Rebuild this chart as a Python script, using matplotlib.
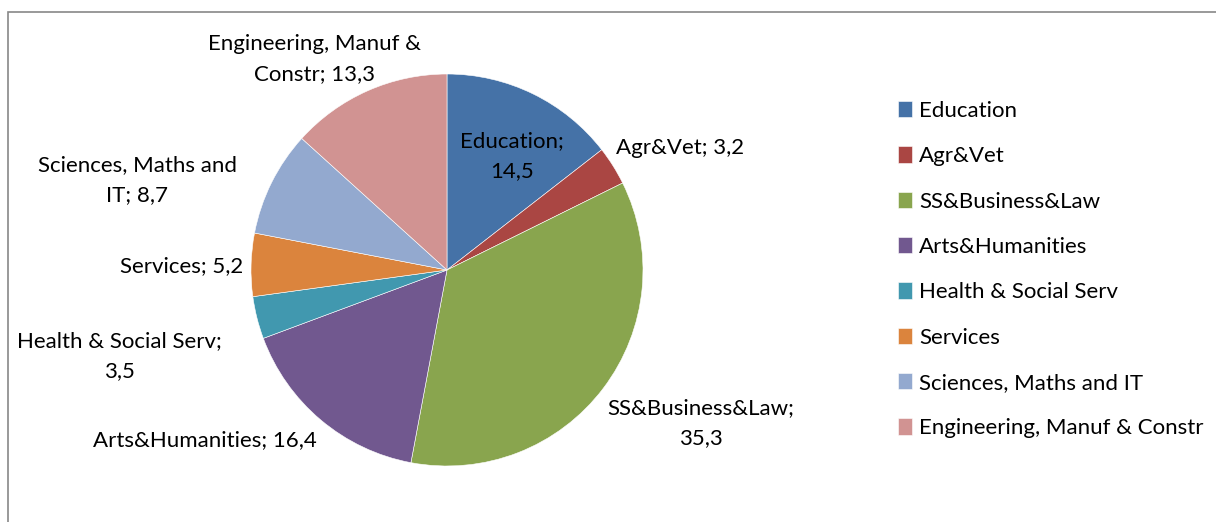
import numpy as np
from matplotlib import pyplot as plt
from matplotlib.patches import Rectangle

# data
categories = ['Education', 'Agr&Vet', 'SS&Business&Law', 'Arts&Humanities',
              'Health & Social Serv', 'Services', 'Sciences, Maths and IT',
              'Engineering, Manuf & Constr']
values = [14.5, 3.2, 35.3, 16.4, 3.5, 5.2, 8.7, 13.3]
label_texts = ['Education;\n14,5', 'Agr&Vet; 3,2', 'SS&Business&Law;\n35,3',
               'Arts&Humanities; 16,4', 'Health & Social Serv;\n3,5',
               'Services; 5,2', 'Sciences, Maths and\nIT; 8,7',
               'Engineering, Manuf &\nConstr; 13,3']
colors = ['#4572A7', '#AA4643', '#89A54E', '#71588F', '#4198AF', '#DB843D',
          '#93A9CF', '#D19392']

# label centers in pixels (x, y from top)
label_px = [(512, 156), (680, 148), (701, 423), (205, 440), (119, 356),
            (182, 266), (137, 180), (314, 59)]

plt.rcParams['font.family'] = ['Lato', 'DejaVu Sans']
W, H = 1216, 522
cx, cy, r = 447, 270, 196
FS = 16

fig = plt.figure(figsize=(W / 100, H / 100), dpi=100)
fig.patches.append(Rectangle((8 / W, -0.1), 1.2, (H - 12) / H + 0.1,
                             transform=fig.transFigure, fill=False,
                             edgecolor='#888888', linewidth=1.2))

ax = fig.add_axes([(cx - r) / W, (H - cy - r) / H, 2 * r / W, 2 * r / H])
wedges, _ = ax.pie(values, colors=colors, startangle=90, counterclock=False,
                   radius=1, wedgeprops=dict(edgecolor='white', linewidth=0.4))
ax.set_xlim(-1, 1)
ax.set_ylim(-1, 1)
ax.set_aspect('equal')
ax.axis('off')

for txt, (px, py) in zip(label_texts, label_px):
    ax.text((px - cx) / r, (cy - py) / r, txt, ha='center', va='center',
            fontsize=FS, color='black', linespacing=1.65, clip_on=False)

leg = fig.legend(wedges, categories, loc='upper left',
                 bbox_to_anchor=(898 / W, 1 - 101 / H), frameon=False,
                 fontsize=FS, handlelength=0.65, handleheight=0.75,
                 handletextpad=0.3, labelspacing=1.14,
                 borderpad=0, borderaxespad=0)

fig.savefig('out.png', dpi=100)
